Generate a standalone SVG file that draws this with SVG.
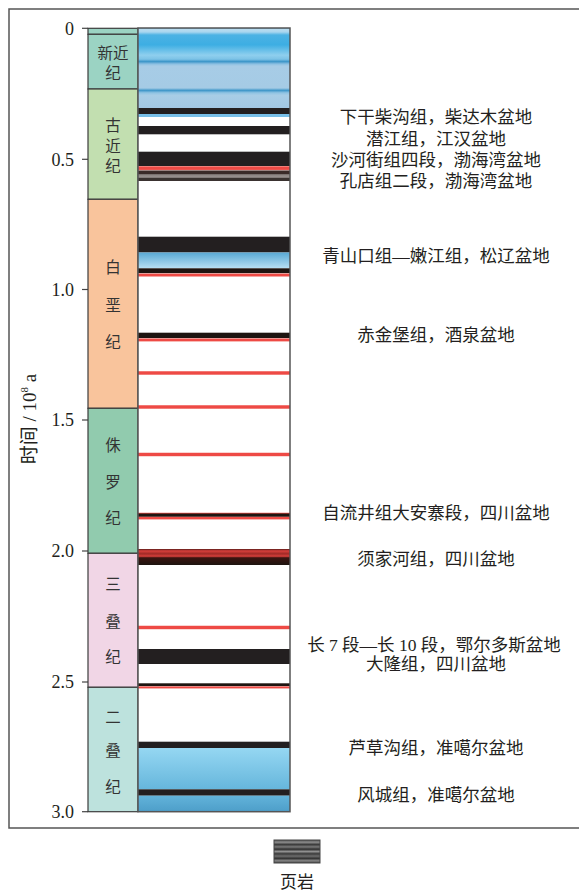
<svg xmlns="http://www.w3.org/2000/svg" width="579" height="892" viewBox="0 0 579 892">
<style>
.num{font-family:"Liberation Serif","Times New Roman",serif;font-size:18px;fill:#231f20;text-anchor:end}
.per{font-family:"Noto Sans CJK SC","Noto Sans",sans-serif;font-size:15.5px;fill:#333;text-anchor:middle}
.lab{font-family:"Liberation Serif","Noto Sans CJK SC",serif;font-size:17.5px;fill:#231f20;text-anchor:middle}
.blk{fill:#231f20}
.red{fill:url(#gRed)}
.tick{stroke:#444;stroke-width:1.2}
</style>
<defs>
<linearGradient id="gRed" x1="0" y1="0" x2="0" y2="1">
<stop offset="0" stop-color="#f7a8a4"/><stop offset="0.25" stop-color="#ee4a45"/><stop offset="0.75" stop-color="#ee4a45"/><stop offset="1" stop-color="#f7b3ae"/>
</linearGradient>
<linearGradient id="gTop" gradientUnits="userSpaceOnUse" x1="0" y1="28" x2="0" y2="108">
<stop offset="0" stop-color="#6fb5dd"/><stop offset="0.019" stop-color="#b8dcf0"/><stop offset="0.05" stop-color="#a9d6ef"/><stop offset="0.0875" stop-color="#4cb2e4"/><stop offset="0.21" stop-color="#3daee3"/><stop offset="0.34" stop-color="#8fcfee"/><stop offset="0.39" stop-color="#7cc2e6"/><stop offset="0.42" stop-color="#3c96c9"/><stop offset="0.45" stop-color="#8cc0e2"/><stop offset="0.475" stop-color="#a7cce6"/><stop offset="0.75" stop-color="#a5cbe5"/><stop offset="0.78" stop-color="#3f97c9"/><stop offset="0.81" stop-color="#8fc3e3"/><stop offset="0.84" stop-color="#a8cde6"/><stop offset="1" stop-color="#a2c8e4"/>
</linearGradient>
<linearGradient id="gCre" x1="0" y1="0" x2="0" y2="1">
<stop offset="0" stop-color="#58a8d4"/><stop offset="1" stop-color="#b8e0f4"/>
</linearGradient>
<linearGradient id="gPer1" x1="0" y1="0" x2="0" y2="1">
<stop offset="0" stop-color="#95d7f2"/><stop offset="1" stop-color="#66b6dc"/>
</linearGradient>
<linearGradient id="gPer2" x1="0" y1="0" x2="0" y2="1">
<stop offset="0" stop-color="#62b3da"/><stop offset="1" stop-color="#4d9ec9"/>
</linearGradient>
<linearGradient id="gGray" x1="0" y1="0" x2="0" y2="1">
<stop offset="0" stop-color="#3a2a28"/><stop offset="0.3" stop-color="#3a2a28"/><stop offset="0.4" stop-color="#8a8280"/><stop offset="0.65" stop-color="#9a9290"/><stop offset="0.72" stop-color="#3a3230"/><stop offset="1" stop-color="#3a3230"/>
</linearGradient>
<linearGradient id="gTri" x1="0" y1="0" x2="0" y2="1">
<stop offset="0" stop-color="#5a1a18"/><stop offset="0.12" stop-color="#d8403c"/><stop offset="0.3" stop-color="#a02a26"/><stop offset="0.45" stop-color="#d8403c"/><stop offset="0.55" stop-color="#3a1410"/><stop offset="1" stop-color="#1e1410"/>
</linearGradient>
<linearGradient id="gShale" x1="0" y1="0" x2="0" y2="1">
<stop offset="0" stop-color="#555"/><stop offset="0.1" stop-color="#8a8a8a"/><stop offset="0.2" stop-color="#3a3a3a"/><stop offset="0.3" stop-color="#7a7a7a"/><stop offset="0.4" stop-color="#2e2e2e"/><stop offset="0.5" stop-color="#909090"/><stop offset="0.6" stop-color="#3a3a3a"/><stop offset="0.7" stop-color="#6e6e6e"/><stop offset="0.8" stop-color="#333"/><stop offset="0.9" stop-color="#858585"/><stop offset="1" stop-color="#444"/>
</linearGradient>
</defs>
<rect width="579" height="892" fill="#fff"/>
<rect x="9" y="9" width="580" height="819" fill="none" stroke="#555" stroke-width="1.5"/>

<g id="axis">
<line class="tick" x1="82" y1="28.3" x2="88" y2="28.3"/>
<line class="tick" x1="82" y1="159.3" x2="88" y2="159.3"/>
<line class="tick" x1="82" y1="289.5" x2="88" y2="289.5"/>
<line class="tick" x1="82" y1="420" x2="88" y2="420"/>
<line class="tick" x1="82" y1="551" x2="88" y2="551"/>
<line class="tick" x1="82" y1="682" x2="88" y2="682"/>
<line class="tick" x1="82" y1="811.7" x2="88" y2="811.7"/>
<text class="num" x="74" y="34.5">0</text>
<text class="num" x="74" y="165.5">0.5</text>
<text class="num" x="74" y="295.7">1.0</text>
<text class="num" x="74" y="426.2">1.5</text>
<text class="num" x="74" y="557.2">2.0</text>
<text class="num" x="74" y="688.2">2.5</text>
<text class="num" x="74" y="818">3.0</text>
<text transform="translate(36,419) rotate(-90)" text-anchor="middle" style="font-family:'Liberation Serif','Noto Sans CJK SC',serif;font-size:19px;fill:#231f20"><tspan style="font-family:'Noto Sans CJK SC',sans-serif">时间</tspan> / 10<tspan dy="-8" font-size="11">8</tspan><tspan dy="8"> a</tspan></text>
</g>

<g id="periods" stroke="#3c3c3c" stroke-width="1.2">
<g id="quaternary"><rect x="88" y="28.3" width="50" height="6" fill="#9bd3c3"/></g>
<g id="neogene"><rect x="88" y="34.3" width="50" height="54.7" fill="#9bd3c3"/>
<text class="per" stroke="none"><tspan x="113" y="59">新近</tspan><tspan x="113" y="79">纪</tspan></text></g>
<g id="paleogene"><rect x="88" y="89" width="50" height="110.3" fill="#c2dfb0"/>
<text class="per" stroke="none"><tspan x="113" y="131">古</tspan><tspan x="113" y="151.5">近</tspan><tspan x="113" y="172">纪</tspan></text></g>
<g id="cretaceous"><rect x="88" y="199.3" width="50" height="209" fill="#f9c49c"/>
<text class="per" stroke="none"><tspan x="113" y="272.5">白</tspan><tspan x="113" y="310.5">垩</tspan><tspan x="113" y="347.5">纪</tspan></text></g>
<g id="jurassic"><rect x="88" y="408.3" width="50" height="145" fill="#91cbae"/>
<text class="per" stroke="none"><tspan x="113" y="450.5">侏</tspan><tspan x="113" y="487.5">罗</tspan><tspan x="113" y="523.5">纪</tspan></text></g>
<g id="triassic"><rect x="88" y="553.3" width="50" height="134" fill="#f1d6e6"/>
<text class="per" stroke="none"><tspan x="113" y="589.5">三</tspan><tspan x="113" y="626.5">叠</tspan><tspan x="113" y="662.5">纪</tspan></text></g>
<g id="permian"><rect x="88" y="687.3" width="50" height="124.4" fill="#bde2dd"/>
<text class="per" stroke="none"><tspan x="113" y="722.5">二</tspan><tspan x="113" y="755.5">叠</tspan><tspan x="113" y="792.5">纪</tspan></text></g>
</g>

<g id="column">
<rect x="138" y="28" width="152" height="784" fill="#fff"/>
<rect x="138" y="28" width="152" height="80" fill="url(#gTop)"/>
<rect class="blk" x="138" y="108" width="152" height="6"/>
<rect x="138" y="114" width="152" height="3" fill="#78bfe8"/>
<rect class="blk" x="138" y="126" width="152" height="8.3"/>
<rect class="blk" x="138" y="151.7" width="152" height="14.3"/>
<rect class="red" x="138" y="166" width="152" height="4.5"/>
<rect x="138" y="170.5" width="152" height="10.5" fill="url(#gGray)"/>
<rect class="blk" x="138" y="236.7" width="152" height="15.8"/>
<rect x="138" y="252.5" width="152" height="15.8" fill="url(#gCre)"/>
<rect x="138" y="268.3" width="152" height="5" fill="#1e1410"/>
<rect class="red" x="138" y="273.3" width="152" height="3.5"/>
<rect x="138" y="332.7" width="152" height="5.5" fill="#1e1410"/>
<rect class="red" x="138" y="338.2" width="152" height="3.5"/>
<rect class="red" x="138" y="371" width="152" height="4"/>
<rect class="red" x="138" y="405" width="152" height="4"/>
<rect class="red" x="138" y="452.5" width="152" height="4"/>
<rect class="red" x="138" y="512.5" width="152" height="2"/>
<rect x="138" y="513.5" width="152" height="3.5" fill="#1e1410"/>
<rect class="red" x="138" y="516.7" width="152" height="3"/>
<rect x="138" y="549" width="152" height="16" fill="url(#gTri)"/>
<rect class="red" x="138" y="625.5" width="152" height="4"/>
<rect class="blk" x="138" y="649" width="152" height="15"/>
<rect x="138" y="683.3" width="152" height="3" fill="#1e1410"/>
<rect class="red" x="138" y="686.2" width="152" height="2.5"/>
<rect class="blk" x="138" y="741.7" width="152" height="6.3"/>
<rect x="138" y="748" width="152" height="41.3" fill="url(#gPer1)"/>
<rect class="blk" x="138" y="789.3" width="152" height="6.4"/>
<rect x="138" y="795.7" width="152" height="16" fill="url(#gPer2)"/>
<rect x="138" y="28" width="152" height="783.7" fill="none" stroke="#555" stroke-width="1.5"/>
</g>

<g id="labels">
<text class="lab" x="436" y="123">下干柴沟组，柴达木盆地</text>
<text class="lab" x="436" y="144.5">潜江组，江汉盆地</text>
<text class="lab" x="436" y="166">沙河街组四段，渤海湾盆地</text>
<text class="lab" x="436" y="187">孔店组二段，渤海湾盆地</text>
<text class="lab" x="436" y="262">青山口组—嫩江组，松辽盆地</text>
<text class="lab" x="436" y="341">赤金堡组，酒泉盆地</text>
<text class="lab" x="436" y="519">自流井组大安寨段，四川盆地</text>
<text class="lab" x="436" y="565">须家河组，四川盆地</text>
<text class="lab" x="434" y="651">长 7 段—长 10 段，鄂尔多斯盆地</text>
<text class="lab" x="436" y="670">大隆组，四川盆地</text>
<text class="lab" x="436" y="754">芦草沟组，准噶尔盆地</text>
<text class="lab" x="436" y="801">风城组，准噶尔盆地</text>
</g>

<g id="legend">
<rect x="274" y="840" width="46" height="23" fill="url(#gShale)" stroke="#444" stroke-width="1"/>
<text x="297" y="888" text-anchor="middle" style="font-family:'Noto Sans CJK SC',sans-serif;font-size:17px;fill:#231f20">页岩</text>
</g>
</svg>
